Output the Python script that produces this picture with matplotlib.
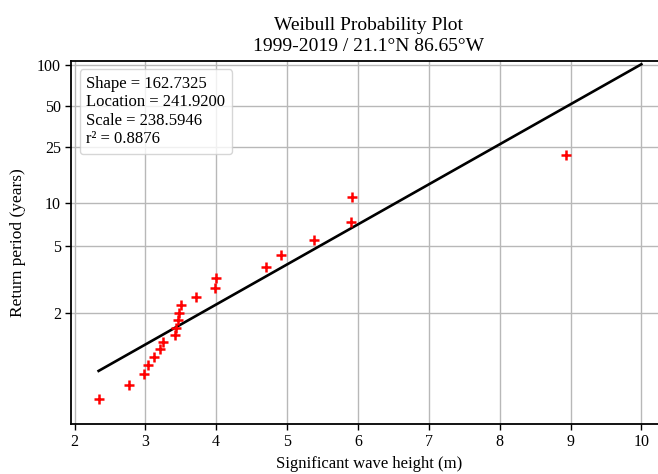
import matplotlib
matplotlib.use("Agg")
import matplotlib.pyplot as plt
import numpy as np
from matplotlib.lines import Line2D
from matplotlib.ticker import FixedLocator, FixedFormatter, NullLocator

plt.rcParams['font.family'] = ['Liberation Serif', 'DejaVu Serif']

# wave heights (m) and their return periods (years)
hs = [8.93, 5.92, 5.90, 5.38, 4.91, 4.70, 4.00, 3.98, 3.71, 3.50, 3.47,
      3.46, 3.43, 3.42, 3.25, 3.21, 3.12, 3.04, 2.98, 2.77, 2.34]
ret_period = [22.0, 11.0, 7.33, 5.5, 4.4, 3.67, 3.14, 2.75, 2.44, 2.2, 2.0,
              1.83, 1.69, 1.57, 1.47, 1.38, 1.29, 1.22, 1.16, 1.10, 1.05]

# fitted line end points
fit_hs = [2.34, 10.0]
fit_rp = [1.18, 102.0]

stats = ["Shape = 162.7325", "Location = 241.9200",
         "Scale = 238.5946", "r\u00b2 = 0.8876"]

y_ticks = [2, 5, 10, 25, 50, 100]
y_labels = ["2", "5", "10", "25", "50", "100"]


def fwd(t):
    t = np.clip(np.asarray(t, dtype=float), 1.0000001, None)
    return -np.log(-np.log(1.0 - 1.0 / t))


def inv(g):
    g = np.asarray(g, dtype=float)
    return 1.0 / (1.0 - np.exp(-np.exp(-g)))


fig = plt.figure(figsize=(6.58, 4.74), dpi=100, facecolor='white')
ax = fig.add_axes([0.1084, 0.1055, 0.904, 0.766])

ax.set_yscale('function', functions=(fwd, inv))
ax.grid(True, color='#b8b8b8', linewidth=1.0)
ax.set_axisbelow(True)

ax.plot(fit_hs, fit_rp, color='black', linewidth=1.9)
ax.plot(hs, ret_period, linestyle='none', marker='+', color='red',
        markersize=7, markeredgewidth=1.8)

ax.set_xlim(1.955, 10.35)
ax.set_ylim(1.0095, 108.0)
ax.set_xticks(range(2, 11))
ax.yaxis.set_major_locator(FixedLocator(y_ticks))
ax.yaxis.set_major_formatter(FixedFormatter(y_labels))
ax.yaxis.set_minor_locator(NullLocator())
ax.tick_params(labelsize=11.5, length=4, width=1.0)
for s in ax.spines.values():
    s.set_linewidth(1.3)

ax.set_xlabel("Significant wave height (m)", fontsize=12, labelpad=4)
ax.set_ylabel("Return period (years)", fontsize=12.5, labelpad=8)
ax.set_title("Weibull Probability Plot\n1999-2019 / 21.1\u00b0N 86.65\u00b0W",
             fontsize=14, linespacing=1.3, pad=7)

handles = [Line2D([], [], linestyle='none') for _ in stats]
leg = ax.legend(handles, stats, loc='upper left', fontsize=12,
                handlelength=0, handletextpad=0, labelspacing=0.15,
                borderpad=0.4, framealpha=0.8)

fig.savefig("out.png", dpi=100)
